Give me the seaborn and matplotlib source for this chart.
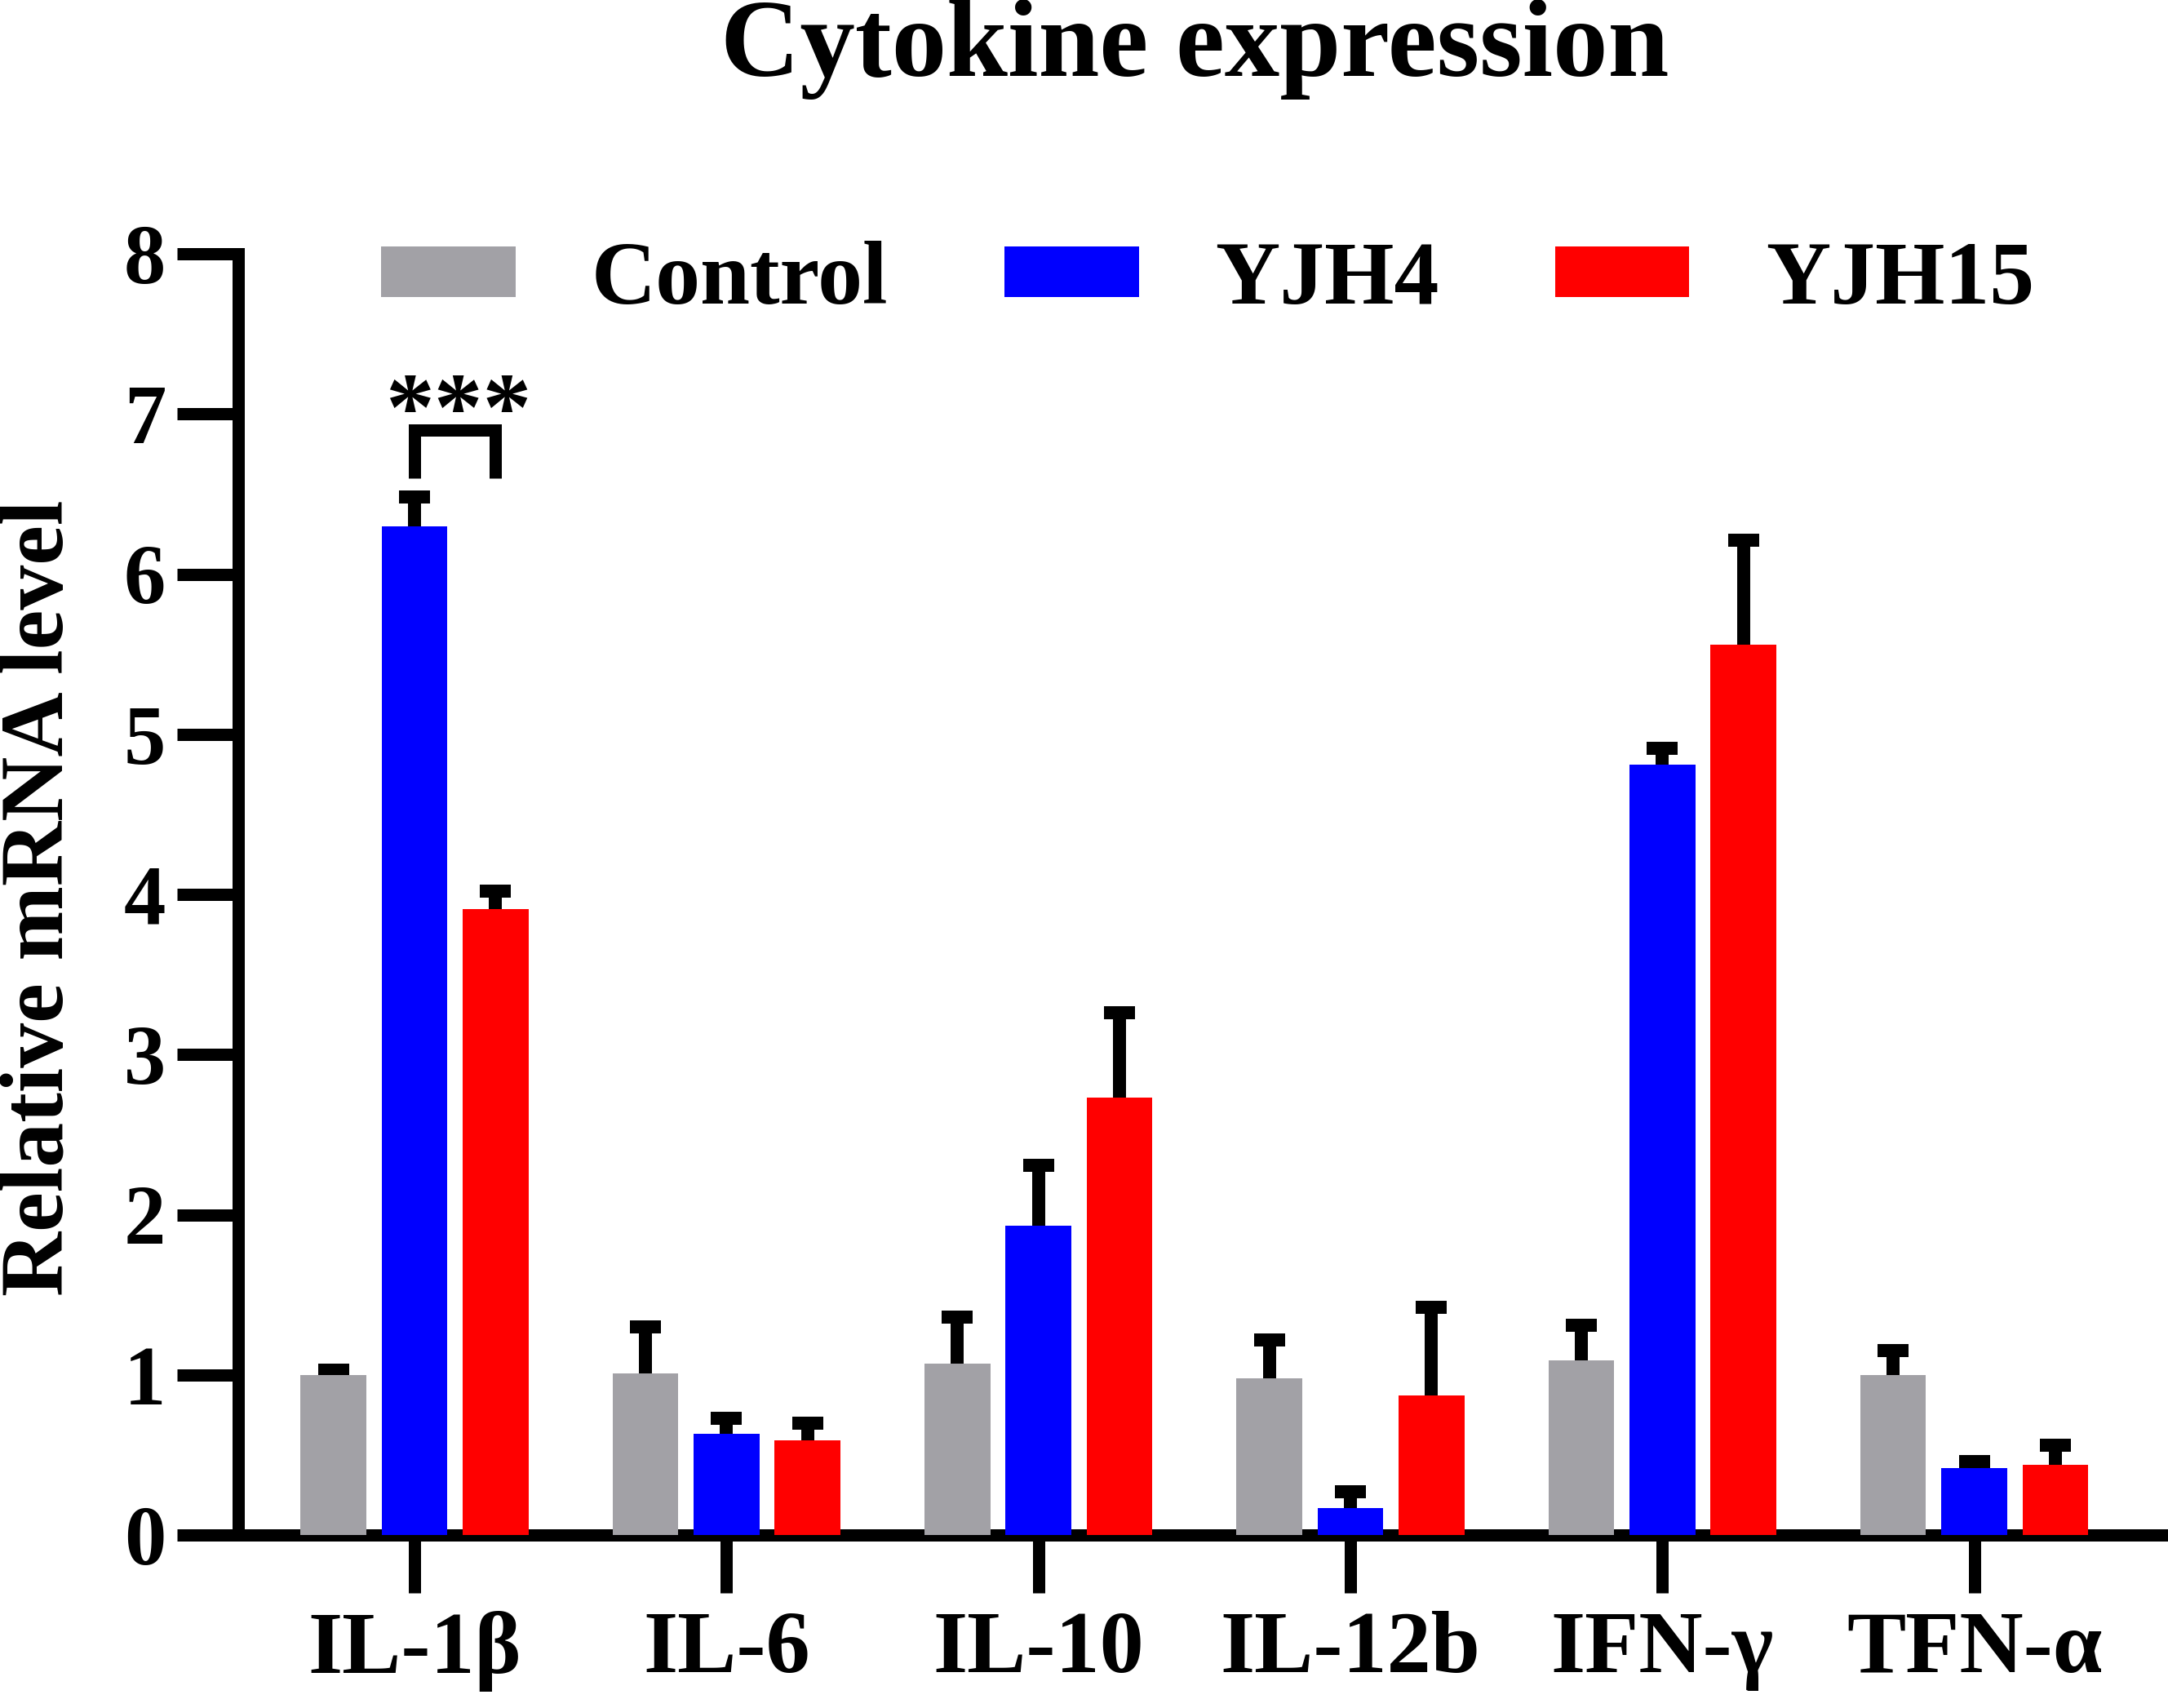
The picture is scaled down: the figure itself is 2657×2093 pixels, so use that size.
import matplotlib
matplotlib.use("Agg")
import matplotlib.pyplot as plt
import seaborn as sns
import pandas as pd
import numpy as np

cytokines = ["IL-1β", "IL-6", "IL-10", "IL-12b", "IFN-γ", "TFN-α"]
groups = ["Control", "YJH4", "YJH15"]
control_mean = [1.00, 1.01, 1.07, 0.98, 1.09, 1.00]
control_top = [1.03, 1.30, 1.36, 1.22, 1.31, 1.15]
yjh4_mean = [6.30, 0.63, 1.93, 0.17, 4.81, 0.42]
yjh4_top = [6.48, 0.73, 2.31, 0.27, 4.91, 0.46]
yjh15_mean = [3.91, 0.59, 2.73, 0.87, 5.56, 0.44]
yjh15_top = [4.02, 0.70, 3.26, 1.42, 6.21, 0.56]
colors = ["#A2A1A6", "#0000FF", "#FF0000"]
title = "Cytokine expression"
ylabel = "Relative mRNA level"
yticks = [0, 1, 2, 3, 4, 5, 6, 7, 8]

means = [control_mean, yjh4_mean, yjh15_mean]
tops = [control_top, yjh4_top, yjh15_top]
rows = []
for g, m, t in zip(groups, means, tops):
    for c, mv, tv in zip(cytokines, m, t):
        rows.append({"cytokine": c, "group": g, "mean": mv, "top": tv})
df = pd.DataFrame(rows)

sns.set_theme(style="ticks")
plt.rcParams["font.family"] = ["Liberation Serif", "DejaVu Serif"]
plt.rcParams["font.weight"] = "bold"
plt.rcParams["text.color"] = "black"
plt.rcParams["axes.labelcolor"] = "black"
plt.rcParams["xtick.color"] = "black"
plt.rcParams["ytick.color"] = "black"

W, H = 2657, 2093
fig = plt.figure(figsize=(W / 100, H / 100), dpi=100)
ax = fig.add_axes([292 / W, 1 - 1881 / H, (2649 - 292) / W, (1881 - 311) / H])

sns.barplot(data=df, x="cytokine", y="mean", hue="group", hue_order=groups,
            order=cytokines, palette=colors, width=0.78, gap=0.19,
            errorbar=None, ax=ax, saturation=1, linewidth=0, zorder=3)
bar_conts = list(ax.containers)

lw_err = 11.5
for gi, cont in enumerate(bar_conts):
    xs = [b.get_x() + b.get_width() / 2 for b in cont]
    m = np.array(means[gi])
    t = np.array(tops[gi])
    ax.vlines(xs, m, t, colors="black", linewidth=lw_err, zorder=2)
    ax.plot(xs, t, linestyle="none", marker="_", markersize=28,
            markeredgewidth=lw_err, color="black", zorder=2)

# significance bracket between YJH4 and YJH15 for IL-1β
b4 = bar_conts[1][0]
b15 = bar_conts[2][0]
x1 = b4.get_x() + b4.get_width() / 2
x2 = b15.get_x() + b15.get_width() / 2
ax.plot([x1, x1, x2, x2], [6.6, 6.9, 6.9, 6.6], color="black", lw=10.8,
        solid_joinstyle="miter", solid_capstyle="butt", zorder=4, clip_on=False)
ax.text((x1 + x2) / 2 + 0.01, 6.84, "***", ha="center", va="baseline",
        fontsize=86, fontweight="bold", zorder=4)

ax.set_xlim(-0.565, 5.6)
ax.set_ylim(0, 8)
ax.set_yticks(yticks)
ax.set_yticklabels([str(v) for v in yticks], fontsize=74, fontweight="bold")
ax.set_xticks(range(len(cytokines)))
ax.set_xticklabels(cytokines, fontsize=78, fontweight="bold")
ax.set_xlabel("")
ax.set_ylabel("")

for s in ["top", "right"]:
    ax.spines[s].set_visible(False)
for s in ["left", "bottom"]:
    ax.spines[s].set_linewidth(10.8)
    ax.spines[s].set_color("black")
    ax.spines[s].set_capstyle("projecting")
ax.tick_params(axis="y", length=54, width=10.8, pad=10, colors="black")
ax.tick_params(axis="x", length=51, width=10.8, pad=16, colors="black")

fig.text(50 / W, 1 - 1100 / H, ylabel, rotation=90, ha="center", va="center",
         fontsize=79, fontweight="bold", color="black")
fig.text(1464 / W, 1 - 93 / H, title, ha="center", va="baseline",
         fontsize=97, fontweight="bold", color="black")

leg = ax.get_legend()
if leg is not None:
    leg.remove()
handles = [cont[0] for cont in bar_conts]
fig.legend(handles, groups, loc="center left", bbox_to_anchor=(467 / W, 1 - 345 / H),
           ncol=3, frameon=False, prop={"weight": "bold", "size": 79},
           handlelength=1.5, handleheight=0.5, handletextpad=0.85,
           columnspacing=1.3, borderpad=0, borderaxespad=0, labelcolor="black")

fig.savefig("out.png", dpi=100, facecolor="white")
